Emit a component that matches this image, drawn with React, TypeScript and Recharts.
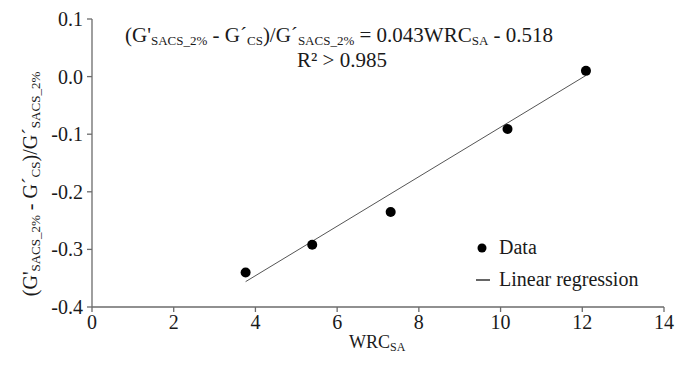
import React from "react";
import {
  ScatterChart,
  Scatter,
  XAxis,
  YAxis,
  Customized,
} from "recharts";

// values
const wrcValues = [3.76, 5.39, 7.31, 10.17, 12.09];
const ratioValues = [-0.34, -0.292, -0.235, -0.091, 0.01];
const fitX = [3.76, 12.09];
const fitY = [-0.356, 0.002];
const xTicks = [0, 2, 4, 6, 8, 10, 12, 14];
const yTicks = [-0.4, -0.3, -0.2, -0.1, 0.0, 0.1];

const points = wrcValues.map((x, i) => ({ x, y: ratioValues[i] }));
const fitLine = fitX.map((x, i) => ({ x, y: fitY[i] }));

const FONT = "Liberation Serif, DejaVu Serif, serif";
const AXIS = "#6b6b6b";
const INK = "#1a1a1a";

const Sub = ({ children, size = 13 }: { children: React.ReactNode; size?: number }) => (
  <tspan fontSize={size} dy={3}>
    {children}
  </tspan>
);

const Annotations = () => (
  <g style={{ fontFamily: FONT }} fill={INK}>
    <text x={117} y={34} fontSize={21} style={{ fontFamily: FONT }}>
      (G'<Sub>SACS_2%</Sub>
      <tspan dy={-3}> - G´</tspan>
      <Sub>CS</Sub>
      <tspan dy={-3}>)/G´</tspan>
      <Sub>SACS_2%</Sub>
      <tspan dy={-3}> = 0.043WRC</tspan>
      <Sub>SA</Sub>
      <tspan dy={-3}>  - 0.518</tspan>
    </text>
    <text x={289} y={59} fontSize={21} style={{ fontFamily: FONT }}>
      R² &gt; 0.985
    </text>
    <circle cx={474} cy={240} r={4.5} fill="#000" />
    <text x={491} y={246} fontSize={20} style={{ fontFamily: FONT }}>
      Data
    </text>
    <line x1={468} x2={482} y1={272} y2={272} stroke="#333" strokeWidth={1.5} />
    <text x={491} y={278} fontSize={20} style={{ fontFamily: FONT }}>
      Linear regression
    </text>
    <text x={341} y={340} fontSize={18} style={{ fontFamily: FONT }}>
      WRC<Sub size={12}>SA</Sub>
    </text>
    <text
      transform="translate(29, 176) rotate(-90)"
      textAnchor="middle"
      fontSize={20}
      style={{ fontFamily: FONT }}
    >
      (G'<Sub>SACS_2%</Sub>
      <tspan dy={-3}> - G´</tspan>
      <Sub>CS</Sub>
      <tspan dy={-3}>)/G´</tspan>
      <Sub>SACS_2%</Sub>
    </text>
  </g>
);

const XTick = (p: any) => (
  <text
    x={p.x}
    y={p.y + 15}
    textAnchor="middle"
    fill={INK}
    fontSize={20}
    style={{ fontFamily: FONT }}
  >
    {p.payload.value}
  </text>
);

const YTick = (p: any) => (
  <text
    x={p.x - 2}
    y={p.y + 7}
    textAnchor="end"
    fill={INK}
    fontSize={20}
    style={{ fontFamily: FONT }}
  >
    {Number(p.payload.value).toFixed(1)}
  </text>
);

const App = () => (
  <div style={{ width: 670, height: 350, background: "#fff" }}>
    <ScatterChart
      width={670}
      height={350}
      margin={{ top: 11, right: 14, bottom: 21, left: 24 }}
    >
      <XAxis
        type="number"
        dataKey="x"
        domain={[0, 14]}
        ticks={xTicks}
        interval={0}
        tickSize={5}
        height={30}
        axisLine={{ stroke: AXIS, strokeWidth: 1.3 }}
        tickLine={{ stroke: AXIS, strokeWidth: 1.3 }}
        tick={XTick}
      />
      <YAxis
        type="number"
        dataKey="y"
        domain={[-0.4, 0.1]}
        ticks={yTicks}
        interval={0}
        tickSize={5}
        width={60}
        axisLine={{ stroke: AXIS, strokeWidth: 1.3 }}
        tickLine={{ stroke: AXIS, strokeWidth: 1.3 }}
        tick={YTick}
      />
      <Scatter
        data={fitLine}
        line={{ stroke: "#555", strokeWidth: 1 }}
        shape={() => <g />}
        isAnimationActive={false}
      />
      <Scatter
        data={points}
        fill="#000"
        shape={(p: any) => <circle cx={p.cx} cy={p.cy} r={5} fill="#000" />}
        isAnimationActive={false}
      />
      <Customized component={Annotations} />
    </ScatterChart>
  </div>
);

export default App;
